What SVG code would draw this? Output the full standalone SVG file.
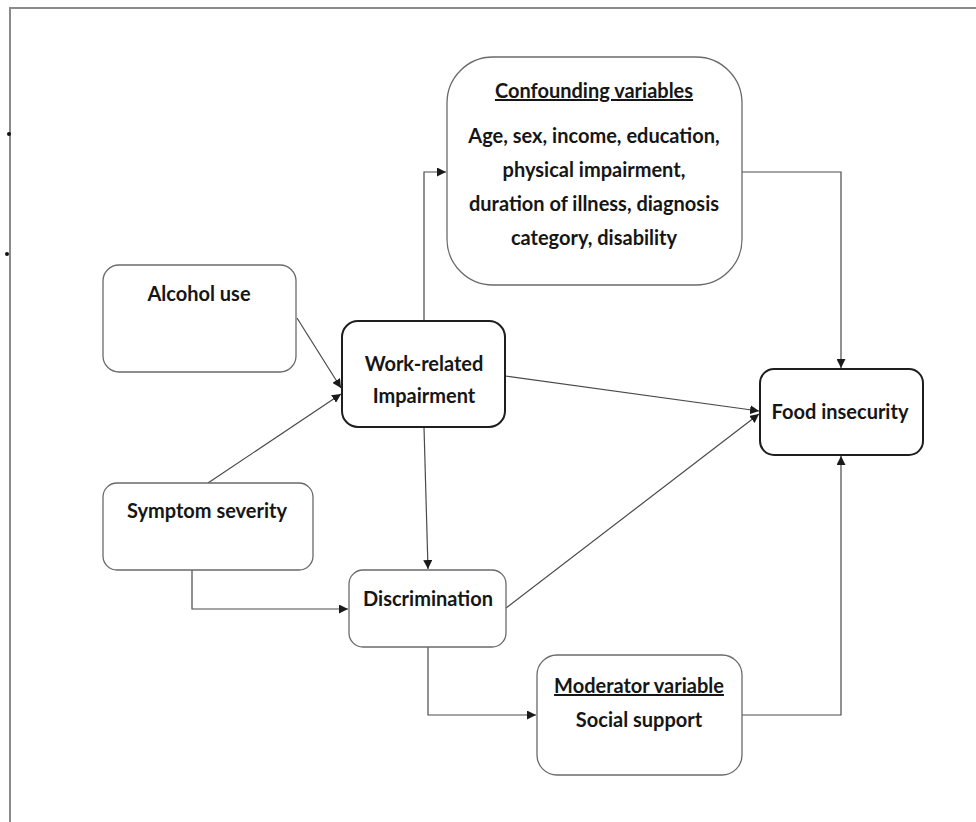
<svg xmlns="http://www.w3.org/2000/svg" width="976" height="822" viewBox="0 0 976 822">
  <style>
    .box { fill: #ffffff; stroke: #6a6a6a; stroke-width: 1.3; }
    .box-strong { fill: #ffffff; stroke: #1e1e1e; stroke-width: 2; }
    .lbl { font-family: Lato, "Open Sans", "Liberation Sans", sans-serif; font-weight: bold; font-size: 20px; fill: #161616; text-anchor: middle; }
    .head { text-decoration: underline; }
    .wire { fill: none; stroke: #4a4a4a; stroke-width: 1.2; }
    .frame { fill: none; stroke: #8a8a8a; stroke-width: 2; }
  </style>
  <defs>
    <marker id="arrow" viewBox="0 0 10 10" refX="10" refY="5" markerWidth="9" markerHeight="9" markerUnits="userSpaceOnUse" orient="auto">
      <path d="M0,0 L10,5 L0,10 z" fill="#1a1a1a"/>
    </marker>
  </defs>

  <rect width="976" height="822" fill="#ffffff"/>

  <!-- page frame -->
  <path class="frame" d="M10,822 L10,8 L976,8"/>
  <circle cx="9" cy="134" r="2" fill="#111"/>
  <circle cx="7" cy="254" r="2" fill="#111"/>

  <!-- connectors -->
  <g id="connectors">
    <path class="wire" d="M424,321 L424,172 L446,172" marker-end="url(#arrow)"/>
    <path class="wire" d="M742,172 L841,172 L841,368" marker-end="url(#arrow)"/>
    <path class="wire" d="M297,318 L341,388" marker-end="url(#arrow)"/>
    <path class="wire" d="M208,483 L341,394" marker-end="url(#arrow)"/>
    <path class="wire" d="M505,376 L759,411" marker-end="url(#arrow)"/>
    <path class="wire" d="M506,608 L759,414" marker-end="url(#arrow)"/>
    <path class="wire" d="M424,427 L428,569" marker-end="url(#arrow)"/>
    <path class="wire" d="M192,570 L192,609 L348,609" marker-end="url(#arrow)"/>
    <path class="wire" d="M428,647 L428,715 L536,715" marker-end="url(#arrow)"/>
    <path class="wire" d="M742,715 L841,715 L841,456" marker-end="url(#arrow)"/>
  </g>

  <g id="confounding">
    <rect class="box" x="447" y="57" width="295" height="228" rx="46" ry="46"/>
    <text class="lbl head" x="594" y="98">Confounding variables</text>
    <text class="lbl" x="594" y="143">Age, sex, income, education,</text>
    <text class="lbl" x="594" y="177">physical impairment,</text>
    <text class="lbl" x="594" y="211">duration of illness, diagnosis</text>
    <text class="lbl" x="594" y="245">category, disability</text>
  </g>

  <g id="alcohol">
    <rect class="box" x="103" y="265" width="193" height="107" rx="16" ry="16"/>
    <text class="lbl" x="199" y="301">Alcohol use</text>
  </g>

  <g id="work">
    <rect class="box-strong" x="342" y="321" width="163" height="106" rx="16" ry="16"/>
    <text class="lbl" x="424" y="371">Work-related</text>
    <text class="lbl" x="424" y="403">Impairment</text>
  </g>

  <g id="symptom">
    <rect class="box" x="103" y="483" width="210" height="87" rx="14" ry="14"/>
    <text class="lbl" x="207" y="518">Symptom severity</text>
  </g>

  <g id="discrimination">
    <rect class="box" x="349" y="570" width="157" height="77" rx="14" ry="14"/>
    <text class="lbl" x="428" y="606">Discrimination</text>
  </g>

  <g id="moderator">
    <rect class="box" x="537" y="655" width="205" height="120" rx="20" ry="20"/>
    <text class="lbl head" x="639" y="693">Moderator variable</text>
    <text class="lbl" x="639" y="727">Social support</text>
  </g>

  <g id="food">
    <rect class="box-strong" x="760" y="369" width="163" height="86" rx="14" ry="14"/>
    <text class="lbl" x="840" y="419">Food insecurity</text>
  </g>
</svg>
